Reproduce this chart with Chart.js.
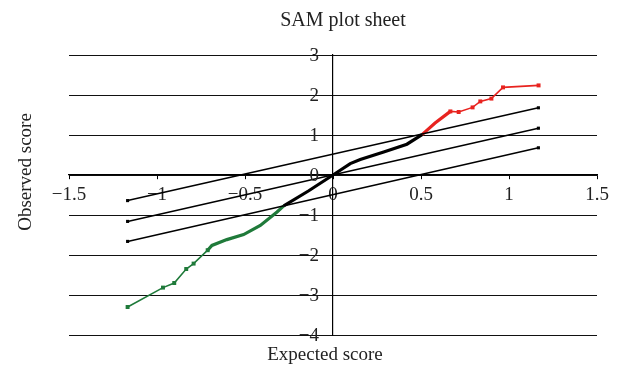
<!DOCTYPE html>
<html><head><meta charset="utf-8">
<script src="https://cdn.jsdelivr.net/npm/chart.js@4.4.1/dist/chart.umd.min.js"></script>
<style>html,body{margin:0;padding:0;background:#fff}#wrap{width:619px;height:366px;position:relative}</style>
</head><body><div id="wrap"><canvas id="c"></canvas></div>
<script>
const chartTitle = "SAM plot sheet";
const xTitle = "Expected score";
const yTitle = "Observed score";
const xTicks = [-1.5, -1, -0.5, 0, 0.5, 1, 1.5];
const yTicks = [-4, -3, -2, -1, 0, 1, 2, 3];

// delta reference lines (observed = expected ± delta)
const refX = [-1.167, 1.167];
const upperY = [-0.64, 1.68];
const middleY = [-1.16, 1.17];
const lowerY = [-1.66, 0.68];

// significant negative genes (green, sparse part with markers)
const lowX = [-1.167, -0.966, -0.902, -0.834, -0.792, -0.712];
const lowY = [-3.30, -2.815, -2.70, -2.35, -2.215, -1.88];
// green dense part
const lowDenseX = [-0.712, -0.688, -0.603, -0.508, -0.413, -0.318, -0.28];
const lowDenseY = [-1.88, -1.76, -1.615, -1.49, -1.26, -0.925, -0.77];
// non-significant (black)
const midX = [-0.28, -0.14, 0, 0.098, 0.155, 0.288, 0.42, 0.506];
const midY = [-0.77, -0.40, 0, 0.285, 0.385, 0.575, 0.77, 1.01];
// significant positive genes (red)
const highDenseX = [0.506, 0.58, 0.667];
const highDenseY = [1.01, 1.30, 1.59];
const highX = [0.667, 0.714, 0.793, 0.837, 0.9, 0.966, 1.168];
const highY = [1.59, 1.575, 1.69, 1.84, 1.91, 2.19, 2.24];

const GREEN = '#1f7a3a';
const RED = '#e8231f';
const FONT = "'Liberation Serif', 'DejaVu Serif', serif";

const pts = (xs, ys) => xs.map((x, i) => ({x, y: ys[i]}));
const fmt = v => (v < 0 ? '\u2212' + Math.abs(v) : String(v));

function ds(data, color, width, radius) {
  return {
    data, borderColor: color, backgroundColor: color, borderWidth: width,
    pointStyle: 'rect', pointRadius: radius, pointHoverRadius: radius,
    pointBorderWidth: 0, tension: 0, fill: false, showLine: true
  };
}

const textPlugin = {
  id: 'texts',
  afterDraw(chart) {
    const ctx = chart.ctx;
    const xs = chart.scales.x, ys = chart.scales.y;
    ctx.save();
    ctx.fillStyle = '#222';
    ctx.textBaseline = 'middle';
    // y tick labels, right-aligned left of the centred y axis
    ctx.font = '19px ' + FONT;
    ctx.textAlign = 'right';
    const ax = xs.getPixelForValue(0);
    yTicks.forEach(v => ctx.fillText(fmt(v), ax - 14, ys.getPixelForValue(v) + 1));
    ctx.textAlign = 'center';
    ctx.font = '20px ' + FONT;
    ctx.fillText(chartTitle, 343, 21);
    ctx.font = '19px ' + FONT;
    ctx.fillText(xTitle, 325, 355);
    ctx.translate(26, 172);
    ctx.rotate(-Math.PI / 2);
    ctx.fillText(yTitle, 0, 0);
    ctx.restore();
  }
};

new Chart(document.getElementById('c'), {
  type: 'scatter',
  data: {
    datasets: [
      ds(pts(refX, upperY), '#000', 1.5, 2.2),
      ds(pts(refX, middleY), '#000', 1.5, 2.2),
      ds(pts(refX, lowerY), '#000', 1.5, 2.2),
      ds(pts(lowX, lowY), GREEN, 1.6, 2.8),
      ds(pts(lowDenseX, lowDenseY), GREEN, 3.2, 0),
      ds(pts(midX, midY), '#000', 3.2, 0),
      ds(pts(highDenseX, highDenseY), RED, 3.2, 0),
      ds(pts(highX, highY), RED, 1.6, 2.8)
    ]
  },
  options: {
    responsive: true,
    maintainAspectRatio: false,
    animation: false,
    events: [],
    layout: { padding: { left: 69, right: 22, top: 55, bottom: 31 } },
    plugins: { legend: { display: false }, tooltip: { enabled: false }, title: { display: false } },
    scales: {
      x: {
        type: 'linear', min: -1.5, max: 1.5, position: { y: 0 },
        afterBuildTicks: s => { s.ticks = xTicks.map(v => ({ value: v })); },
        ticks: { callback: fmt, autoSkip: false, maxRotation: 0, padding: 5,
                 color: '#222', font: { family: FONT, size: 19 } },
        grid: { drawOnChartArea: false, drawTicks: true, tickLength: 4, color: '#000', lineWidth: 1 },
        border: { display: true, color: '#000', width: 1.2 }
      },
      y: {
        type: 'linear', min: -4, max: 3, position: { x: 0 },
        afterBuildTicks: s => { s.ticks = yTicks.map(v => ({ value: v })); },
        ticks: { display: false, autoSkip: false },
        grid: { drawOnChartArea: true, drawTicks: true, tickLength: 4, color: '#111', lineWidth: 1 },
        border: { display: true, color: '#000', width: 1.2 }
      }
    }
  },
  plugins: [textPlugin]
});
</script>
</body></html>
